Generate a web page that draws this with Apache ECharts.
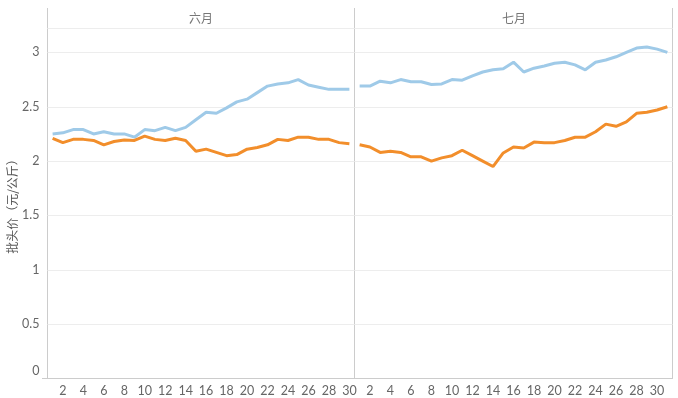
<!DOCTYPE html>
<html><head><meta charset="utf-8">
<script src="https://cdn.jsdelivr.net/npm/echarts@6/dist/echarts.min.js"></script>
<style>html,body{margin:0;padding:0;background:#fff}#c{width:678px;height:398px}</style>
</head><body><div id="c"></div>
<script>
const panelTitles = ['六月', '七月'];
const yAxisTitle = '批头价（元/公斤）';
const juneDays = [1,2,3,4,5,6,7,8,9,10,11,12,13,14,15,16,17,18,19,20,21,22,23,24,25,26,27,28,29,30];
const julyDays = [1,2,3,4,5,6,7,8,9,10,11,12,13,14,15,16,17,18,19,20,21,22,23,24,25,26,27,28,29,30,31];
const juneHigh = [2.25,2.26,2.29,2.29,2.25,2.27,2.25,2.25,2.22,2.29,2.28,2.31,2.28,2.31,2.38,2.45,2.44,2.49,2.545,2.57,2.63,2.69,2.71,2.72,2.75,2.70,2.68,2.66,2.66,2.66];
const juneLow = [2.21,2.17,2.20,2.20,2.19,2.15,2.18,2.195,2.19,2.23,2.20,2.19,2.21,2.19,2.09,2.11,2.08,2.05,2.06,2.11,2.125,2.15,2.20,2.19,2.22,2.22,2.20,2.20,2.17,2.16];
const julyHigh = [2.69,2.69,2.735,2.72,2.75,2.73,2.73,2.705,2.71,2.75,2.745,2.785,2.82,2.84,2.85,2.91,2.82,2.855,2.875,2.90,2.91,2.885,2.84,2.91,2.93,2.96,3.00,3.04,3.05,3.03,3.00];
const julyLow = [2.15,2.13,2.08,2.09,2.08,2.04,2.04,2.00,2.03,2.05,2.10,2.05,2.00,1.95,2.075,2.13,2.12,2.175,2.17,2.17,2.19,2.22,2.22,2.27,2.34,2.32,2.36,2.44,2.45,2.47,2.50];
const yMin = 0, yMax = 3.22, yStep = 0.5;

const BLUE = '#9fcae8', ORANGE = '#f28e2b', BORDER = '#cccccc', GRIDC = '#ededed', TXT = '#666666';
const FONT = 'Lato, "Noto Sans", sans-serif';

const chart = echarts.init(document.getElementById('c'), null, {renderer: 'canvas'});
function xAxisFor(idx, cats) {
  return {
    type: 'category', gridIndex: idx, data: cats, boundaryGap: true,
    axisLine: {show: true, lineStyle: {color: BORDER}},
    axisTick: {show: false},
    axisLabel: {color: TXT, fontSize: 12.5, fontFamily: FONT, margin: 6,
      interval: (i, v) => Number(v) % 2 === 0}
  };
}
function yAxisFor(idx, showLabels) {
  return {
    type: 'value', gridIndex: idx, min: yMin, max: yMax, interval: yStep,
    axisLine: {show: false}, axisTick: {show: false},
    splitLine: {show: true, lineStyle: {color: GRIDC}},
    axisLabel: {show: showLabels, color: TXT, fontSize: 12.5, fontFamily: FONT, margin: 8,
      showMaxLabel: false,
      formatter: v => v === 0 ? '{z|0}' : String(v),
      rich: {z: {color: TXT, fontSize: 12.5, fontFamily: FONT, padding: [0, 0, 16, 0]}}},
    name: showLabels ? yAxisTitle : '',
    nameLocation: 'middle', nameGap: 29,
    nameTextStyle: {color: '#555', fontSize: 12, fontFamily: '"Noto Sans CJK SC", sans-serif'}
  };
}
function lineSeries(name, xi, data, color) {
  return {name, type: 'line', xAxisIndex: xi, yAxisIndex: xi, data,
    showSymbol: false, symbol: 'none', smooth: false,
    lineStyle: {width: 3, color}, itemStyle: {color}, z: color === ORANGE ? 3 : 2};
}
const gl = (x1, y1, x2, y2) => ({type: 'line', silent: true,
  shape: {x1, y1, x2, y2}, style: {stroke: BORDER, lineWidth: 1}});

chart.setOption({
  animation: false,
  backgroundColor: '#ffffff',
  grid: [
    {left: 47.5, top: 28.5, width: 307, bottom: 19.5, show: true, borderColor: BORDER, borderWidth: 1},
    {left: 354.5, top: 28.5, right: 5.5, bottom: 19.5, show: true, borderColor: BORDER, borderWidth: 1}
  ],
  xAxis: [xAxisFor(0, juneDays), xAxisFor(1, julyDays)],
  yAxis: [yAxisFor(0, true), yAxisFor(1, false)],
  series: [
    lineSeries('高价', 0, juneHigh, BLUE),
    lineSeries('低价', 0, juneLow, ORANGE),
    lineSeries('高价', 1, julyHigh, BLUE),
    lineSeries('低价', 1, julyLow, ORANGE)
  ],
  graphic: [
    gl(47.5, 8, 47.5, 28.5), gl(354.5, 8, 354.5, 28.5), gl(672.5, 8, 672.5, 28.5),
    gl(42, 378.5, 47.5, 378.5),
    {type: 'text', x: 201, y: 18, style: {text: panelTitles[0], fill: '#777', font: '12px "Noto Sans CJK SC"', align: 'center', verticalAlign: 'middle'}},
    {type: 'text', x: 514, y: 18, style: {text: panelTitles[1], fill: '#777', font: '12px "Noto Sans CJK SC"', align: 'center', verticalAlign: 'middle'}}
  ]
});
</script></body></html>
